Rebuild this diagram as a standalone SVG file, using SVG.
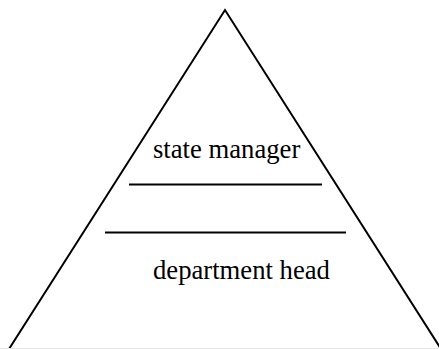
<svg xmlns="http://www.w3.org/2000/svg" width="439" height="349" viewBox="0 0 439 349">
<style>
.ln{stroke:#000;stroke-width:2;fill:none}
.t{font-family:"Liberation Serif","Times New Roman",serif;font-size:26.67px;fill:#000}
</style>
<rect width="439" height="349" fill="#fff"/>
<g id="pyramid">
<path class="ln" d="M9,349 L225,10 L441,349"/>
<line x1="0" y1="348.5" x2="439" y2="348.5" stroke="#e6e6e6" stroke-width="1"/>
</g>
<g id="connectors">
<line class="ln" x1="129" y1="184.5" x2="322" y2="184.5"/>
<line class="ln" x1="105" y1="232.5" x2="346" y2="232.5"/>
</g>
<g id="state-manager"><text class="t" x="153" y="158">state manager</text></g>
<g id="department-head"><text class="t" x="153" y="279">department head</text></g>
</svg>
